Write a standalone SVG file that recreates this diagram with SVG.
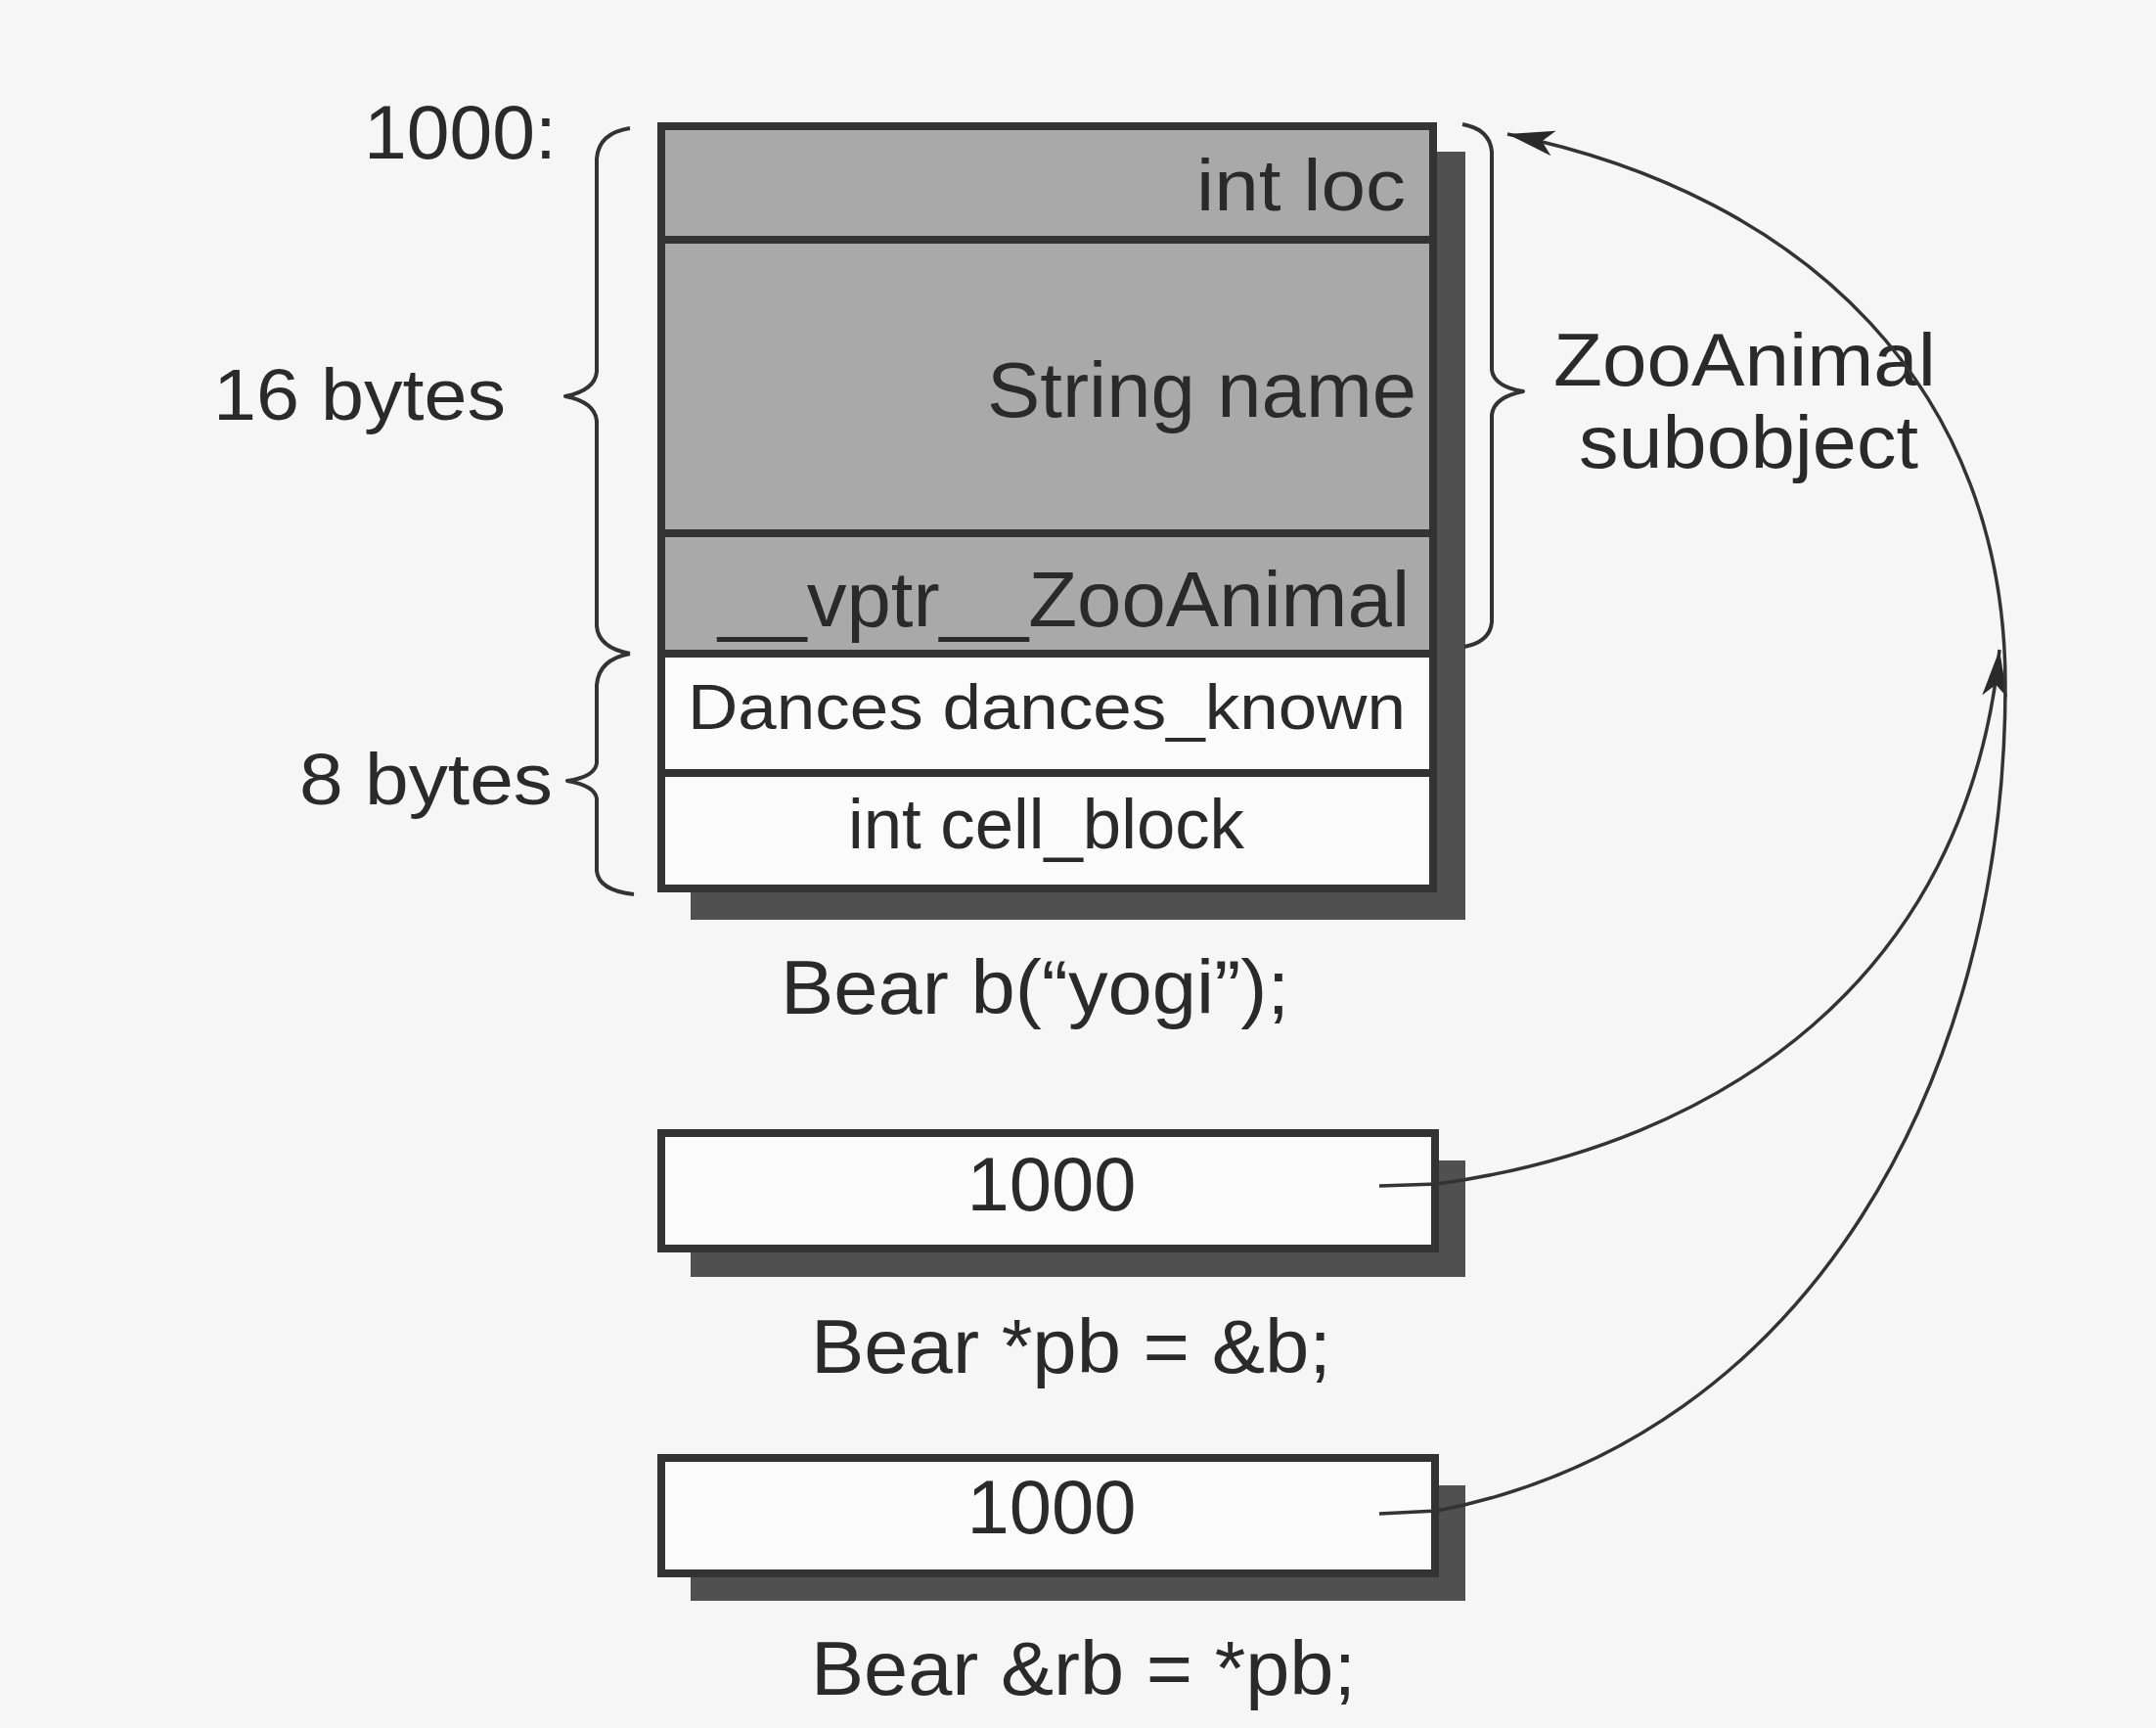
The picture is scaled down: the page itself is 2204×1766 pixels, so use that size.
<svg xmlns="http://www.w3.org/2000/svg" width="2204" height="1766" viewBox="0 0 2204 1766">
<style>
  text { font-family: "Liberation Sans", Arial, sans-serif; fill: #2a2a2a; }
  .cellg { fill: #a9a9a9; stroke: #333; stroke-width: 8; }
  .cellw { fill: #fbfbfb; stroke: #333; stroke-width: 8; }
  .shadow { fill: #505050; }
  .brace { fill: none; stroke: #333; stroke-width: 4; stroke-linejoin: round; }
  .conn { fill: none; stroke: #333; stroke-width: 3.5; }
</style>
<defs>
  <marker id="ah" markerWidth="50" markerHeight="32" refX="48" refY="16" orient="auto" markerUnits="userSpaceOnUse">
    <path d="M0,3 L48,16 L0,29 L12,16 Z" fill="#2a2a2a"/>
  </marker>
</defs>
<rect x="0" y="0" width="2204" height="1766" fill="#f6f6f6"/>

<g id="bear-object">
  <rect class="shadow" x="706" y="155" width="792" height="785"/>
  <rect class="cellg" x="676" y="129" width="789" height="116"/>
  <rect class="cellg" x="676" y="245" width="789" height="300"/>
  <rect class="cellg" x="676" y="545" width="789" height="123"/>
  <rect class="cellw" x="676" y="668" width="789" height="122"/>
  <rect class="cellw" x="676" y="790" width="789" height="118"/>
  <text x="1437" y="215" font-size="74" text-anchor="end" textLength="214" lengthAdjust="spacingAndGlyphs">int loc</text>
  <text x="1448" y="426" font-size="80" text-anchor="end" textLength="439" lengthAdjust="spacingAndGlyphs">String name</text>
  <text x="1441" y="640" font-size="80" text-anchor="end" textLength="707" lengthAdjust="spacingAndGlyphs">__vptr__ZooAnimal</text>
  <text x="703" y="745" font-size="64" textLength="734" lengthAdjust="spacingAndGlyphs">Dances dances_known</text>
  <text x="867" y="867" font-size="72" textLength="405" lengthAdjust="spacingAndGlyphs">int cell_block</text>
  <text x="798" y="1036" font-size="78" textLength="520" lengthAdjust="spacingAndGlyphs">Bear b(“yogi”);</text>
</g>

<g id="labels-left">
  <text x="372" y="162" font-size="78" textLength="197" lengthAdjust="spacingAndGlyphs">1000:</text>
  <text x="218" y="429" font-size="74" textLength="299" lengthAdjust="spacingAndGlyphs">16 bytes</text>
  <text x="306" y="822" font-size="74" textLength="259" lengthAdjust="spacingAndGlyphs">8 bytes</text>
  <path class="brace" d="M644,131 Q612,136 610,162 L610,380 Q608,399 578,405 Q608,411 610,430 L610,640 Q612,662 644,668"/>
  <path class="brace" d="M644,668 Q612,674 610,700 L610,780 Q608,794 580,798 Q608,803 610,816 L610,890 Q612,910 648,914"/>
</g>

<g id="zooanimal-label">
  <path class="brace" d="M1495,127 Q1523,132 1525,155 L1525,378 Q1527,395 1557,400 Q1527,406 1525,424 L1525,636 Q1523,656 1497,661"/>
  <text x="1588" y="394" font-size="76" textLength="391" lengthAdjust="spacingAndGlyphs">ZooAnimal</text>
  <text x="1614" y="478" font-size="76" textLength="347" lengthAdjust="spacingAndGlyphs">subobject</text>
</g>

<g id="pb-box">
  <rect class="shadow" x="706" y="1186" width="792" height="119"/>
  <rect class="cellw" x="676" y="1158" width="791" height="118"/>
  <text x="1075" y="1237" font-size="78" text-anchor="middle" textLength="173" lengthAdjust="spacingAndGlyphs">1000</text>
  <text x="829" y="1403" font-size="78" textLength="532" lengthAdjust="spacingAndGlyphs">Bear *pb = &amp;b;</text>
</g>

<g id="rb-box">
  <rect class="shadow" x="706" y="1518" width="792" height="118"/>
  <rect class="cellw" x="676" y="1490" width="791" height="118"/>
  <text x="1075" y="1567" font-size="78" text-anchor="middle" textLength="173" lengthAdjust="spacingAndGlyphs">1000</text>
  <text x="829" y="1732" font-size="78" textLength="557" lengthAdjust="spacingAndGlyphs">Bear &amp;rb = *pb;</text>
</g>

<g id="connectors">
  <path class="conn" marker-end="url(#ah)" d="M1410,1212 L1469,1210 C1760,1170 2010,1000 2044,664"/>
  <path class="conn" marker-end="url(#ah)" d="M1410,1547 L1469,1544 C1850,1470 2050,1100 2050,700 C2050,400 1850,200 1541,137"/>
</g>
</svg>
